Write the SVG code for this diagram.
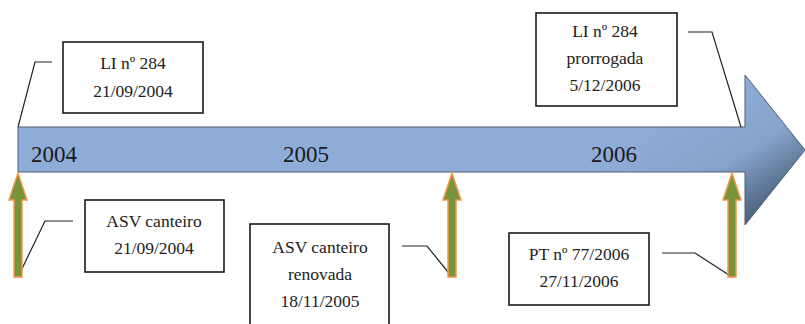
<svg xmlns="http://www.w3.org/2000/svg" width="805" height="324" viewBox="0 0 805 324">
<style>
.box{fill:#fff;stroke:#1a1a1a;stroke-width:1.6}
.t{font-family:"Liberation Serif","Times New Roman",serif;font-size:17.5px;fill:#222;text-anchor:middle}
.yr{font-family:"Liberation Serif","Times New Roman",serif;font-size:23px;fill:#1a1a1a}
.con{fill:none;stroke:#222;stroke-width:1.2}
.up{fill:#77933c;stroke:#f79646;stroke-width:1.5;stroke-linejoin:miter}
</style>
<defs>
<linearGradient id="g" gradientUnits="userSpaceOnUse" x1="700" y1="100" x2="780" y2="230">
<stop offset="0" stop-color="#8eacd8"/>
<stop offset="0.45" stop-color="#86a3cb"/>
<stop offset="1" stop-color="#34475e"/>
</linearGradient>
<linearGradient id="gs" x1="0" y1="0" x2="0" y2="1">
<stop offset="0" stop-color="#7e9bc4"/>
<stop offset="0.3" stop-color="#8eacd8"/>
<stop offset="1" stop-color="#90aedb"/>
</linearGradient>
</defs>
<g id="timeline">
<path d="M18,127 L745,127 L745,75 L805,150 L745,225 L745,172 L18,172 Z" fill="url(#g)" stroke="#4c5d72" stroke-width="1"/>
<text class="yr" x="31" y="162">2004</text>
<text class="yr" x="283" y="162">2005</text>
<text class="yr" x="591" y="162">2006</text>
</g>
<g id="connectors">
<polyline class="con" points="52,62 35,62 18,127"/>
<polyline class="con" points="73,221 45,221 18,277"/>
<polyline class="con" points="402,246 427,246 452,277"/>
<polyline class="con" points="688,32 712,32 741,127"/>
<polyline class="con" points="662,253 695,253 732,277"/>
<path class="up" d="M14,277 L14,200 L9,200 L18,173 L27,200 L22,200 L22,277 Z"/>
<path class="up" d="M448,277 L448,200 L443,200 L452,173 L461,200 L456,200 L456,277 Z"/>
<path class="up" d="M728,277 L728,200 L723,200 L732,173 L741,200 L736,200 L736,277 Z"/>
</g>
<g id="n1">
<rect class="box" x="63" y="42" width="140" height="71"/>
<text class="t" x="133" y="69">LI nº 284</text>
<text class="t" x="133" y="97">21/09/2004</text>
</g>
<g id="n2">
<rect class="box" x="85" y="200" width="139" height="72"/>
<text class="t" x="154" y="227">ASV canteiro</text>
<text class="t" x="154" y="254">21/09/2004</text>
</g>
<g id="n3">
<rect class="box" x="250" y="224" width="139" height="110"/>
<text class="t" x="320" y="253">ASV canteiro</text>
<text class="t" x="320" y="280">renovada</text>
<text class="t" x="320" y="307">18/11/2005</text>
</g>
<g id="n4">
<rect class="box" x="536" y="13" width="141" height="93"/>
<text class="t" x="605" y="37">LI nº 284</text>
<text class="t" x="605" y="64">prorrogada</text>
<text class="t" x="605" y="91">5/12/2006</text>
</g>
<g id="n5">
<rect class="box" x="509" y="233" width="140" height="72"/>
<text class="t" x="579" y="260">PT nº 77/2006</text>
<text class="t" x="579" y="287">27/11/2006</text>
</g>
</svg>
